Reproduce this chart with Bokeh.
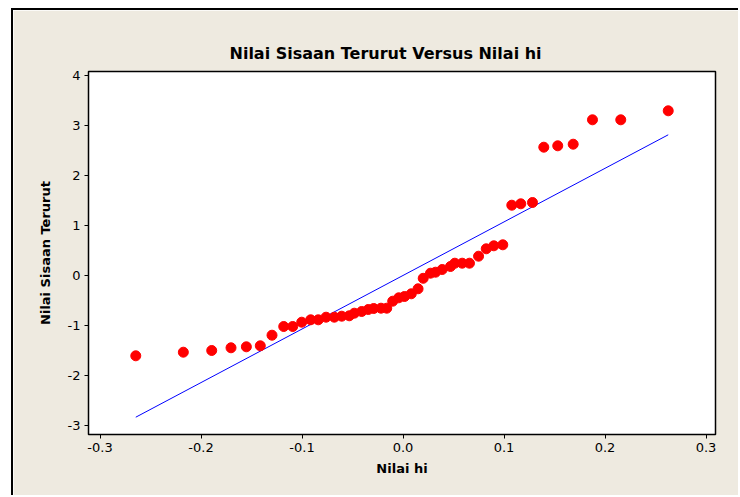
from bokeh.plotting import figure
from bokeh.models import FixedTicker, NumeralTickFormatter
from bokeh.embed import file_html
from bokeh.resources import INLINE

# Data
hi_values = [-0.2646, -0.2175, -0.1894, -0.1703, -0.1551, -0.1413, -0.1297, -0.1181,
             -0.1092, -0.1003, -0.0914, -0.0839, -0.0762, -0.0680, -0.0607, -0.0532,
             -0.0482, -0.0409, -0.0344, -0.0290, -0.0218, -0.0161, -0.0102, -0.0042,
             0.0015, 0.0082, 0.0149, 0.0200, 0.0272, 0.0322, 0.0388, 0.0470,
             0.0513, 0.0586, 0.0658, 0.0748, 0.0824, 0.0899, 0.0988, 0.1077,
             0.1166, 0.1282, 0.1394, 0.1532, 0.1685, 0.1876, 0.2156, 0.2626]
residuals = [-1.606, -1.534, -1.500, -1.446, -1.426, -1.406, -1.194, -1.020,
             -1.020, -0.934, -0.886, -0.886, -0.834, -0.834, -0.814, -0.806,
             -0.754, -0.720, -0.680, -0.660, -0.654, -0.654, -0.514, -0.446,
             -0.420, -0.366, -0.266, -0.056, 0.046, 0.066, 0.120, 0.180,
             0.246, 0.246, 0.246, 0.386, 0.534, 0.594, 0.614, 1.406,
             1.434, 1.460, 2.566, 2.594, 2.626, 3.114, 3.114, 3.294]
line_x = [-0.2646, 0.2626]
line_y = [-2.834, 2.814]

x_ticks = [-0.3, -0.2, -0.1, 0.0, 0.1, 0.2, 0.3]
y_ticks = [-3, -2, -1, 0, 1, 2, 3, 4]

title_text = "Nilai Sisaan Terurut Versus Nilai hi"
x_label = "Nilai hi"
y_label = "Nilai Sisaan Terurut"

BEIGE = "#EEEAE0"
FONT = "DejaVu Sans"

p = figure(width=727, height=487, output_backend="svg", toolbar_location=None,
           x_range=(-0.3114, 0.3094), y_range=(-3.18, 4.08),
           title=title_text)
p.styles = {"margin-left": "11px", "margin-top": "8px",
            "border-left": "2px solid black", "border-top": "2px solid black"}

p.min_border_left = 75
p.min_border_right = 25
p.min_border_top = 61
p.min_border_bottom = 63

p.background_fill_color = "white"
p.border_fill_color = BEIGE
p.outline_line_color = "black"
p.outline_line_width = 1.5

p.title.align = "left"
p.title.offset = 141
p.title.text_font = FONT
p.title.text_font_size = "16px"
p.title.text_font_style = "bold"
p.title.text_color = "black"
p.title.standoff = 17

p.xgrid.visible = False
p.ygrid.visible = False

for ax in (p.xaxis[0], p.yaxis[0]):
    ax.axis_line_color = "black"
    ax.major_tick_line_color = "black"
    ax.major_tick_out = 4
    ax.major_tick_in = 0
    ax.minor_tick_line_color = None
    ax.major_label_text_font = FONT
    ax.major_label_text_font_size = "13px"
    ax.major_label_text_color = "black"
    ax.axis_label_text_font = FONT
    ax.axis_label_text_font_size = "13px"
    ax.axis_label_text_font_style = "bold"
    ax.axis_label_text_color = "black"

p.xaxis.ticker = FixedTicker(ticks=x_ticks)
p.xaxis.formatter = NumeralTickFormatter(format="0.0")
p.xaxis.axis_label = x_label
p.xaxis.major_label_standoff = 4
p.xaxis.axis_label_standoff = 6

p.yaxis.ticker = FixedTicker(ticks=y_ticks)
p.yaxis.formatter = NumeralTickFormatter(format="0")
p.yaxis.axis_label = y_label
p.yaxis.major_label_standoff = 4
p.yaxis.axis_label_standoff = 12

p.line(line_x, line_y, line_color="#0000FF", line_width=1)
p.scatter(hi_values, residuals, size=10, fill_color="#FF0000", line_color="#FF0000")

open("out.html", "w").write(file_html(p, INLINE))
